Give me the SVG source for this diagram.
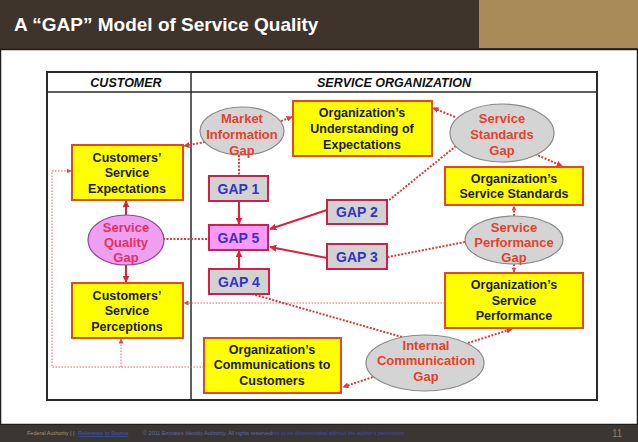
<svg xmlns="http://www.w3.org/2000/svg" width="638" height="442" viewBox="0 0 638 442">
<defs>
<marker id="ah" viewBox="0 0 10 10" refX="9" refY="5" markerUnits="userSpaceOnUse" markerWidth="7" markerHeight="7" orient="auto"><path d="M0,0 L10,5 L0,10 z" fill="#e0203a"/></marker>
<marker id="ahd" viewBox="0 0 10 10" refX="9" refY="5" markerUnits="userSpaceOnUse" markerWidth="6" markerHeight="6" orient="auto"><path d="M0,0 L10,5 L0,10 z" fill="#e03a3a"/></marker>
<marker id="ahs" viewBox="0 0 10 10" refX="9" refY="5" markerUnits="userSpaceOnUse" markerWidth="5" markerHeight="5" orient="auto"><path d="M0,0 L10,5 L0,10 z" fill="#e04848"/></marker>
</defs>
<style>
.box{fill:#ffff00;stroke:#e8461c;stroke-width:2}
.gbox{fill:#d2d2d2;stroke:#d0204a;stroke-width:2}
.g5{fill:#ff99ff;stroke:#d0204a;stroke-width:2}
.ell{fill:#d4d4d4;stroke:#8a8a8a;stroke-width:1.2}
.sq{fill:#ee9ff0;stroke:#9a3e9a;stroke-width:1.2}
.bt{font-family:"Liberation Sans",Arial,sans-serif;font-weight:bold;font-size:12.5px;fill:#1c1c14;text-anchor:middle}
.et{font-family:"Liberation Sans",Arial,sans-serif;font-weight:bold;font-size:13px;fill:#e8402a;text-anchor:middle}
.qt{font-family:"Liberation Sans",Arial,sans-serif;font-weight:bold;font-size:13px;fill:#e8305c;text-anchor:middle}
.gt{font-family:"Liberation Sans",Arial,sans-serif;font-weight:bold;font-size:14px;fill:#3434c8;text-anchor:middle}
.ht{font-family:"Liberation Sans",Arial,sans-serif;font-weight:bold;font-style:italic;font-size:12.5px;fill:#111;text-anchor:middle}
.sol{stroke:#e0203a;stroke-width:2;fill:none}
.dot{stroke:#e03a3a;stroke-width:2;stroke-dasharray:2 1.5;fill:none}
.thin{stroke:#e86060;stroke-width:1;stroke-dasharray:1.5 1.5;fill:none}
</style>
<!-- slide chrome -->
<rect x="0" y="0" width="638" height="49" fill="#3e342b"/>
<rect x="479" y="0" width="159" height="48" fill="#a98b5a"/>
<text x="14" y="31" font-family="'Liberation Sans',Arial,sans-serif" font-weight="bold" font-size="19" fill="#ffffff">A “GAP” Model of Service Quality</text>
<rect x="0.5" y="49.5" width="637" height="375" fill="#ffffff" stroke="#1e1e1e" stroke-width="1.5"/>
<rect x="0" y="425" width="638" height="17" fill="#3a3631"/>
<text x="27" y="435" font-family="'Liberation Sans',Arial,sans-serif" font-size="5.5" fill="#a89470">Federal Authority | |</text>
<text x="78" y="435" font-family="'Liberation Sans',Arial,sans-serif" font-size="5.5" fill="#3a5ac8" text-decoration="underline">Reference to Source</text>
<text x="143" y="435" font-family="'Liberation Sans',Arial,sans-serif" font-size="5.5" fill="#5a6ab8">© 2011 Emirates Identity Authority. All rights reserved</text>
<text x="272" y="435" font-family="'Liberation Sans',Arial,sans-serif" font-style="italic" font-size="5.5" fill="#3a4ac0">not to be disseminated without the author's permission</text>
<text x="612" y="437" font-family="'Liberation Sans',Arial,sans-serif" font-size="10" fill="#8a8070">11</text>
<!-- diagram frame -->
<g id="frame">
<rect x="47" y="72" width="550" height="328" fill="#ffffff" stroke="#2a2a2a" stroke-width="2"/>
<line x1="47" y1="92" x2="597" y2="92" stroke="#2a2a2a" stroke-width="1.5"/>
<line x1="191" y1="72" x2="191" y2="400" stroke="#2a2a2a" stroke-width="1.5"/>
<text class="ht" x="126" y="87">CUSTOMER</text>
<text class="ht" x="394" y="87">SERVICE ORGANIZATION</text>
</g>
<!-- connectors -->
<g id="connectors">
<path class="dot" d="M205,142 L184,146" marker-end="url(#ahd)"/>
<path class="dot" d="M281,121 L292,117" marker-end="url(#ahd)"/>
<path class="dot" d="M239,155 L239,176"/>
<path class="sol" d="M239,201 L239,224" marker-end="url(#ah)"/>
<path class="sol" d="M239,269 L239,251" marker-end="url(#ah)"/>
<path class="sol" d="M327,210 L270,229" marker-end="url(#ah)"/>
<path class="sol" d="M327,258 L270,247" marker-end="url(#ah)"/>
<path class="dot" d="M455,117 L433,108" marker-end="url(#ahd)"/>
<path class="dot" d="M535,154 L562,166" marker-end="url(#ahd)"/>
<path class="dot" d="M456,146 L388,201"/>
<path class="dot" d="M514,216 L514,206" marker-end="url(#ahs)"/>
<path class="dot" d="M514,264 L514,272" marker-end="url(#ahs)"/>
<path class="dot" d="M465,242 L388,257"/>
<path class="dot" d="M163,239 L209,239"/>
<path class="sol" d="M126,215 L126,201" marker-end="url(#ah)"/>
<path class="sol" d="M126,265 L126,282" marker-end="url(#ah)"/>
<path class="thin" d="M445,303 L184,303" marker-end="url(#ahs)"/>
<path class="dot" d="M252,294 L402,337"/>
<path class="dot" d="M468,343 L512,329" marker-end="url(#ahd)"/>
<path class="dot" d="M376,376 L343,387" marker-end="url(#ahd)"/>
<path class="thin" d="M204,367 L52,367 L52,171 L71,171" marker-end="url(#ahs)"/>
<path class="thin" d="M121,367 L121,339" marker-end="url(#ahs)"/>
</g>
<!-- nodes -->
<g id="cust-expectations">
<rect class="box" x="72" y="145" width="111" height="55"/>
<text class="bt" x="127" y="161.5">Customers’</text>
<text class="bt" x="127" y="177">Service</text>
<text class="bt" x="127" y="192.5">Expectations</text>
</g>
<g id="service-quality-gap">
<ellipse class="sq" cx="126" cy="240" rx="38" ry="25"/>
<text class="qt" x="126" y="231.5">Service</text>
<text class="qt" x="126" y="246.5">Quality</text>
<text class="qt" x="126" y="261.5">Gap</text>
</g>
<g id="cust-perceptions">
<rect class="box" x="72" y="283" width="111" height="55"/>
<text class="bt" x="127" y="299.5">Customers’</text>
<text class="bt" x="127" y="314.5">Service</text>
<text class="bt" x="127" y="330.5">Perceptions</text>
</g>
<g id="market-info-gap">
<ellipse class="ell" cx="242" cy="131" rx="42" ry="24"/>
<text class="et" x="242" y="122.5">Market</text>
<text class="et" x="242" y="138.5">Information</text>
<text class="et" x="242" y="154.5">Gap</text>
</g>
<g id="org-understanding">
<rect class="box" x="293" y="101" width="139" height="55"/>
<text class="bt" x="362" y="116.5">Organization’s</text>
<text class="bt" x="362" y="132.5">Understanding of</text>
<text class="bt" x="362" y="148.5">Expectations</text>
</g>
<g id="service-standards-gap">
<ellipse class="ell" cx="502" cy="133" rx="52" ry="29"/>
<text class="et" x="502" y="122.5">Service</text>
<text class="et" x="502" y="138.5">Standards</text>
<text class="et" x="502" y="154.5">Gap</text>
</g>
<g id="org-standards">
<rect class="box" x="445" y="167" width="138" height="38"/>
<text class="bt" x="514" y="182.5">Organization’s</text>
<text class="bt" x="514" y="197.5">Service Standards</text>
</g>
<g id="service-performance-gap">
<ellipse class="ell" cx="514" cy="240" rx="49" ry="24"/>
<text class="et" x="514" y="231.5">Service</text>
<text class="et" x="514" y="246.5">Performance</text>
<text class="et" x="514" y="261.5">Gap</text>
</g>
<g id="org-performance">
<rect class="box" x="445" y="273" width="138" height="55"/>
<text class="bt" x="514" y="288.5">Organization’s</text>
<text class="bt" x="514" y="304.5">Service</text>
<text class="bt" x="514" y="319.5">Performance</text>
</g>
<g id="internal-comm-gap">
<ellipse class="ell" cx="425" cy="363" rx="59" ry="28"/>
<text class="et" x="426" y="349.5">Internal</text>
<text class="et" x="426" y="364.5">Communication</text>
<text class="et" x="426" y="380.5">Gap</text>
</g>
<g id="org-communications">
<rect class="box" x="204" y="338" width="137" height="55"/>
<text class="bt" x="272" y="353.5">Organization’s</text>
<text class="bt" x="272" y="368.5">Communications to</text>
<text class="bt" x="272" y="384.5">Customers</text>
</g>
<g id="gap1">
<rect class="gbox" x="209" y="176" width="59" height="25"/>
<text class="gt" x="238.5" y="193.5">GAP 1</text>
</g>
<g id="gap5">
<rect class="g5" x="209" y="225" width="59" height="25"/>
<text class="gt" x="238.5" y="242.5">GAP 5</text>
</g>
<g id="gap4">
<rect class="gbox" x="209" y="269" width="60" height="25"/>
<text class="gt" x="239" y="286.5">GAP 4</text>
</g>
<g id="gap2">
<rect class="gbox" x="327" y="200" width="60" height="24"/>
<text class="gt" x="357" y="217">GAP 2</text>
</g>
<g id="gap3">
<rect class="gbox" x="327" y="244" width="60" height="25"/>
<text class="gt" x="357" y="261.5">GAP 3</text>
</g>
</svg>
